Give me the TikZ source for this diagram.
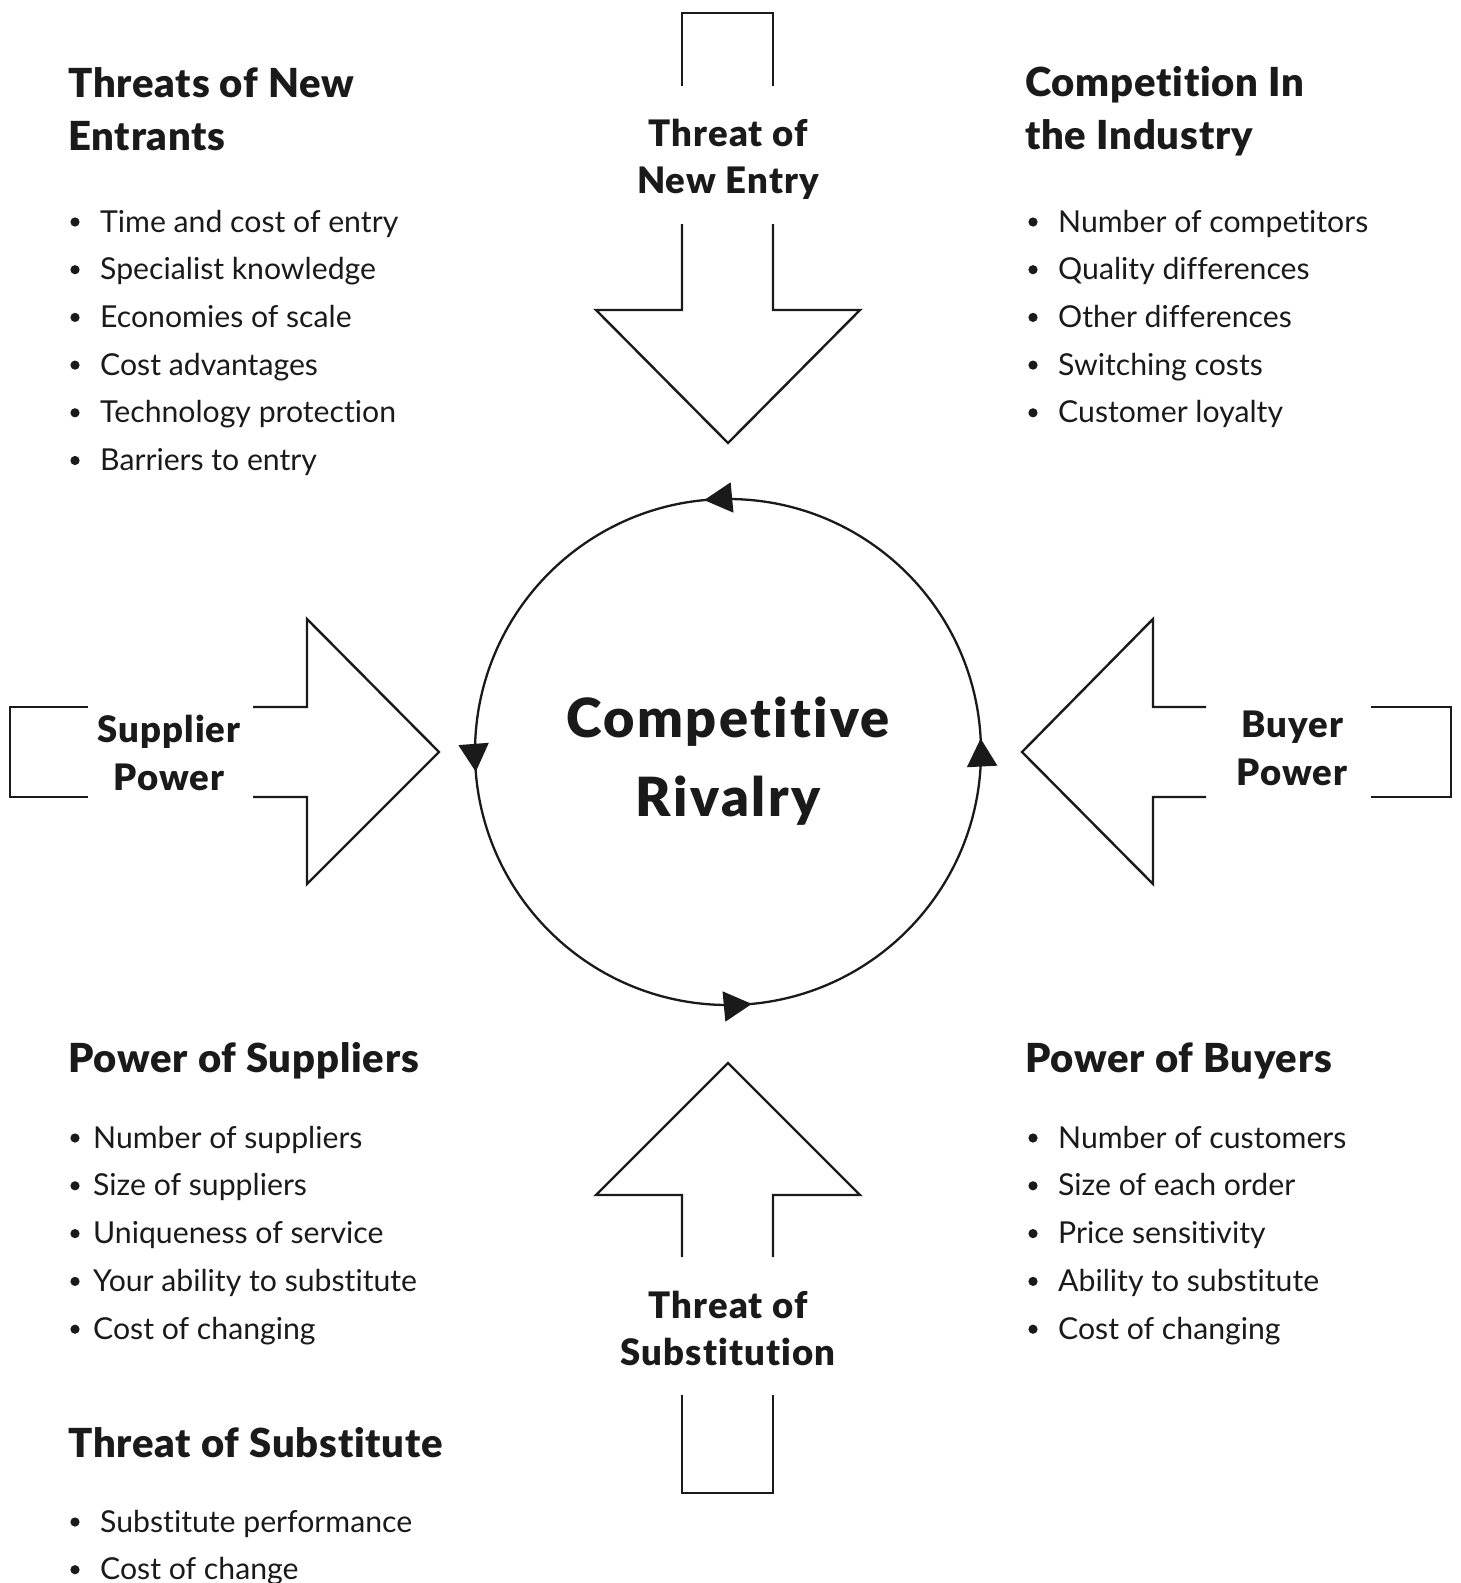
\documentclass[tikz,border=0pt]{standalone}
\usepackage{fontspec}
\setmainfont{Lato}[Ligatures=NoCommon]
\newfontfamily\headfont{Lato Black}[Ligatures=NoCommon, LetterSpace=2]
\newfontfamily\forcefont{Lato Black}[Ligatures=NoCommon, LetterSpace=3]
\newfontfamily\corefont{Lato Black}[Ligatures=NoCommon, LetterSpace=4.5]
\usetikzlibrary{arrows.meta,decorations.markings,calc}
\definecolor{ink}{HTML}{1A1A1A}

\tikzset{
  outline/.style={draw=ink, line width=2.4pt, line join=miter, line cap=butt},
  heading/.style={font=\headfont\fontsize{40}{47}\selectfont, text=ink, anchor=base west, inner sep=0pt},
  item/.style={font=\fontsize{30.2}{36}\selectfont, text=ink, anchor=base west, inner sep=0pt},
  force/.style={font=\forcefont\fontsize{36.5}{44}\selectfont, text=ink, anchor=base, inner sep=0pt},
  core/.style={font=\corefont\fontsize{54}{60}\selectfont, text=ink, anchor=base, inner sep=0pt},
  dot/.style={fill=ink},
}

\begin{document}
\begin{tikzpicture}[x=1pt, y=-1pt]
  \useasboundingbox[fill=white] (0,0) rectangle (1460,1583);

  % ---- centre: competitive rivalry ring ----
  \coordinate (hub) at (728,752);
  \draw[outline, line width=2.3pt,
        postaction={decorate},
        decoration={markings,
          mark=at position 0.0085 with {\arrow[ink]{Triangle[length=28pt,width=30pt]}},
          mark=at position 0.265 with {\arrow[ink]{Triangle[length=28pt,width=30pt]}},
          mark=at position 0.5125 with {\arrow[ink]{Triangle[length=28pt,width=30pt]}},
          mark=at position 0.765 with {\arrow[ink]{Triangle[length=28pt,width=30pt]}}}]
    ($(hub)+(253,0)$) arc[start angle=0, end angle=-360, radius=253];
  \node[core] (rival1) at (728,737) {Competitive};
  \node[core] (rival2) at (728,816) {Rivalry};

  % ---- top arrow: threat of new entry ----
  \draw[outline] (682,86) -- (682,13) -- (773,13) -- (773,86);
  \draw[outline] (682,224) -- (682,310) -- (596,310) -- (728,443) -- (860,310) -- (773,310) -- (773,224);
  \node[force] (entry1) at (728,146) {Threat of};
  \node[force] (entry2) at (728,193) {New Entry};

  % ---- bottom arrow: threat of substitution ----
  \draw[outline] (682,1257) -- (682,1195) -- (596,1195) -- (728,1063) -- (860,1195) -- (773,1195) -- (773,1257);
  \draw[outline] (682,1395) -- (682,1493) -- (773,1493) -- (773,1395);
  \node[force] (subst1) at (728,1318) {Threat of};
  \node[force] (subst2) at (728,1365) {Substitution};

  % ---- left arrow: supplier power ----
  \draw[outline] (88,707) -- (10,707) -- (10,797) -- (88,797);
  \draw[outline] (253,707) -- (307,707) -- (307,619) -- (439,752) -- (307,884) -- (307,797) -- (253,797);
  \node[force] (supp1) at (169,742) {Supplier};
  \node[force] (supp2) at (169,790) {Power};

  % ---- right arrow: buyer power ----
  \draw[outline] (1206,707) -- (1153,707) -- (1153,619) -- (1022,752) -- (1153,884) -- (1153,797) -- (1206,797);
  \draw[outline] (1371,707) -- (1451,707) -- (1451,797) -- (1371,797);
  \node[force] (buy1) at (1292,737) {Buyer};
  \node[force] (buy2) at (1292,785) {Power};

  % ---- text blocks ----
  \node[heading] (newh1) at (68,97) {Threats of New};
  \node[heading] (newh2) at (68,150) {Entrants};
  \foreach \t [count=\i from 0] in {Time and cost of entry, Specialist knowledge,
      Economies of scale, Cost advantages, Technology protection, Barriers to entry} {
    \fill[dot] (75,232+47.7*\i-10) circle[radius=4.6];
    \node[item] (newi\i) at (100,232+47.7*\i) {\t};
  }

  \node[heading] (indh1) at (1025,96) {Competition In};
  \node[heading] (indh2) at (1025,149) {the Industry};
  \foreach \t [count=\i from 0] in {Number of competitors, Quality differences,
      Other differences, Switching costs, Customer loyalty} {
    \fill[dot] (1033,232+47.7*\i-10) circle[radius=4.6];
    \node[item] (indi\i) at (1058,232+47.7*\i) {\t};
  }

  \node[heading] (suph) at (68,1072) {Power of Suppliers};
  \foreach \t [count=\i from 0] in {Number of suppliers, Size of suppliers,
      Uniqueness of service, Your ability to substitute, Cost of changing} {
    \fill[dot] (75,1148+47.8*\i-10) circle[radius=4.6];
    \node[item] (supi\i) at (93,1148+47.8*\i) {\t};
  }

  \node[heading] (buyh) at (1025,1072) {Power of Buyers};
  \foreach \t [count=\i from 0] in {Number of customers, Size of each order,
      Price sensitivity, Ability to substitute, Cost of changing} {
    \fill[dot] (1033,1148+47.8*\i-10) circle[radius=4.6];
    \node[item] (buyi\i) at (1058,1148+47.8*\i) {\t};
  }

  \node[heading] (subh) at (68,1457) {Threat of Substitute};
  \foreach \t [count=\i from 0] in {Substitute performance, Cost of change} {
    \fill[dot] (75,1532+47.7*\i-10) circle[radius=4.6];
    \node[item] (subi\i) at (100,1532+47.7*\i) {\t};
  }
\end{tikzpicture}
\end{document}
